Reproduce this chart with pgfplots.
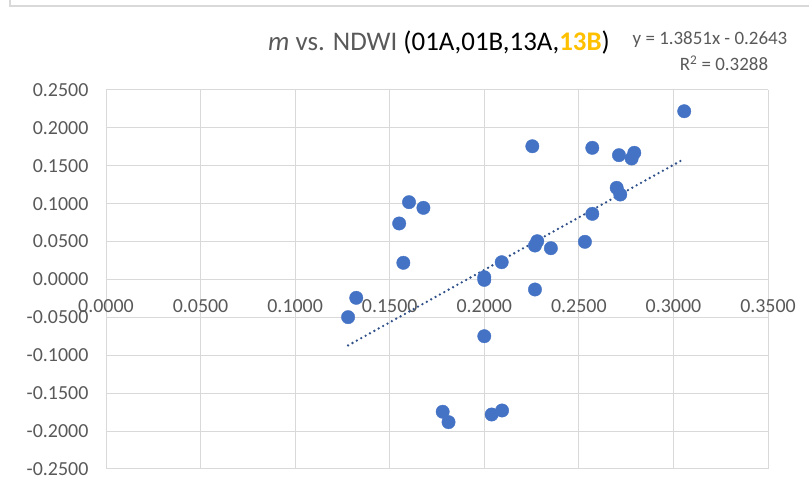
\documentclass[border=0pt]{standalone}
\usepackage{pgfplots}
\pgfplotsset{compat=1.18}
\usepackage{fontspec}
\setmainfont{Carlito}
\definecolor{ptblue}{HTML}{4472C4}
\definecolor{gridgray}{HTML}{D9D9D9}
\definecolor{txtgray}{HTML}{595959}
\definecolor{gold}{HTML}{FFC000}

\begin{document}
\begin{tikzpicture}[x=1bp,y=1bp]
% chart frame
\draw[gridgray, line width=1.2bp] (10,600) -- (10,484) -- (900,484);

\begin{axis}[
  at={(106bp,21bp)}, anchor=south west,
  scale only axis, width=662bp, height=379bp,
  xmin=0, xmax=0.35, ymin=-0.25, ymax=0.25,
  xtick={0,0.05,...,0.351}, ytick={-0.25,-0.2,...,0.251},
  axis x line=middle, axis y line=left,
  axis line style={draw=none},
  hide obscured x ticks=false, hide obscured y ticks=false,
  grid=major, major grid style={gridgray, line width=1bp},
  tick style={draw=none},
  /pgf/number format/assume math mode=true,
  /pgf/number format/.cd, fixed, fixed zerofill, precision=4, /pgfplots/.cd,
  ticklabel style={font=\fontsize{20}{22}\selectfont, text=txtgray},
  xticklabel style={anchor=north, yshift=-14bp},
  yticklabel style={anchor=east, xshift=-12bp},
  clip=false,
]
\addplot[only marks, mark=*, mark size=6.7bp, mark options={fill=ptblue, draw=ptblue}]
coordinates {
(0.1280,-0.0497) (0.1323,-0.0242) (0.1550,0.0739) (0.1572,0.0220)
(0.1602,0.1020) (0.1678,0.0945) (0.1780,-0.1745) (0.1811,-0.1882)
(0.2000,-0.0748) (0.2000,0.0030) (0.2000,-0.0005) (0.2039,-0.1781)
(0.2094,-0.1728) (0.2092,0.0228) (0.2254,0.1758) (0.2268,-0.0132)
(0.2268,0.0448) (0.2280,0.0505) (0.2352,0.0413) (0.2532,0.0497)
(0.2571,0.0866) (0.2571,0.1737) (0.2700,0.1209) (0.2719,0.1121)
(0.2712,0.1640) (0.2779,0.1596) (0.2793,0.1671) (0.3057,0.2220)
};
% linear trendline y = 1.3851x - 0.2643
\addplot[color=ptblue!70!black, line width=2.6bp, line cap=round,
  dash pattern=on 0bp off 5bp]
coordinates {(0.1280,-0.0870) (0.3057,0.1591)};
\end{axis}

% title and trendline equation
\node[font=\fontsize{27}{30}\selectfont, text=txtgray] at (439,447)
  {\textit{m} vs. NDWI \textcolor{black}{(01A,01B,13A,}\textcolor{gold}{\textbf{13B}}\textcolor{black}{)}};
\node[font=\fontsize{19}{21}\selectfont, text=txtgray] at (710,450) {y = 1.3851x - 0.2643};
\node[font=\fontsize{19}{21}\selectfont, text=txtgray] at (724,427) {R\textsuperscript{2} = 0.3288};

\pgfresetboundingbox
\path[use as bounding box] (0,0) rectangle (809,490);
\end{tikzpicture}
\end{document}
